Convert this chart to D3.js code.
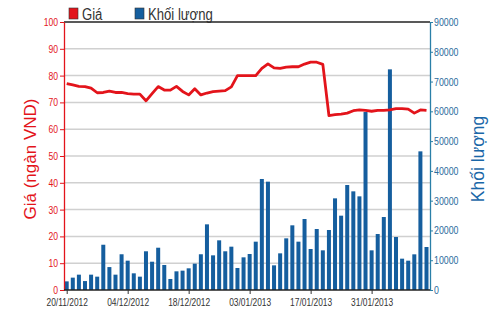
<!DOCTYPE html>
<html>
<head>
<meta charset="utf-8">
<script src="https://cdn.jsdelivr.net/npm/d3@7"></script>
<style>
  body { margin: 0; background: #fff; }
  text { font-family: "Liberation Sans", Arial, sans-serif; }
</style>
</head>
<body>
<div id="chart"></div>
<script>
// Data: trading days, price (ngàn VND) and volume
const dates = [
  "20/11/2012", "21/11/2012", "22/11/2012", "23/11/2012", "26/11/2012", "27/11/2012", "28/11/2012", "29/11/2012", "30/11/2012", "03/12/2012",
  "04/12/2012", "05/12/2012", "06/12/2012", "07/12/2012", "10/12/2012", "11/12/2012", "12/12/2012", "13/12/2012", "14/12/2012", "17/12/2012",
  "18/12/2012", "19/12/2012", "20/12/2012", "21/12/2012", "24/12/2012", "25/12/2012", "26/12/2012", "27/12/2012", "28/12/2012", "02/01/2013",
  "03/01/2013", "04/01/2013", "07/01/2013", "08/01/2013", "09/01/2013", "10/01/2013", "11/01/2013", "14/01/2013", "15/01/2013", "16/01/2013",
  "17/01/2013", "18/01/2013", "21/01/2013", "22/01/2013", "23/01/2013", "24/01/2013", "25/01/2013", "28/01/2013", "29/01/2013", "30/01/2013",
  "31/01/2013", "01/02/2013", "04/02/2013", "05/02/2013", "06/02/2013", "07/02/2013", "18/02/2013", "19/02/2013", "20/02/2013", "21/02/2013"
];

const price = [
  77.0, 76.5, 76.0, 75.9, 75.3, 73.6, 73.7, 74.2, 73.7, 73.7,
  73.3, 73.1, 73.1, 70.6, 73.3, 75.9, 74.6, 74.6, 76.0, 74.1,
  72.8, 75.1, 72.8, 73.5, 74.0, 74.2, 74.4, 75.8, 80.0, 80.0,
  80.0, 80.0, 82.7, 84.4, 82.9, 82.7, 83.2, 83.3, 83.3, 84.3,
  85.0, 85.0, 84.2, 65.1, 65.4, 65.6, 66.0, 66.9, 67.2, 67.0,
  66.7, 67.0, 67.0, 67.2, 67.7, 67.7, 67.5, 66.0, 67.2, 67.0
];

const volume = [
  2900, 4150, 5150, 3000, 5150, 4480, 15200, 7700, 5150, 12000,
  9850, 5600, 4480, 13000, 9500, 14200, 8400, 3700, 6270, 6500,
  7280, 8840, 12000, 22050, 11640, 16680, 13000, 14550, 7390, 10970,
  12090, 16230, 37280, 36380, 8280, 12310, 17350, 21720, 16230, 23840,
  13770, 20480, 13320, 20150, 30780, 24960, 35260, 33130, 31450, 59770,
  13320, 18800, 24510, 74100, 17800, 10520, 9850, 11980, 46560, 14440
];

const priceTicks = [0, 10, 20, 30, 40, 50, 60, 70, 80, 90, 100];
const volumeTicks = [0, 10000, 20000, 30000, 40000, 50000, 60000, 70000, 80000, 90000];
const dateTicks = ["20/11/2012", "04/12/2012", "18/12/2012", "03/01/2013", "17/01/2013", "31/01/2013"];

const width = 500;
const height = 312;
const margin = { top: 22, right: 70, bottom: 22, left: 64 };
const plotRight = width - margin.right;
const plotBottom = height - margin.bottom;

const red = "#e3141b";
const blue = "#155e9e";

const svg = d3.select("#chart")
  .append("svg")
  .attr("width", width)
  .attr("height", height);

// squeeze text horizontally (reference uses a narrow font)
function narrow(sel, k) {
  sel.each(function () {
    const len = this.getComputedTextLength();
    d3.select(this)
      .attr("textLength", len * k)
      .attr("lengthAdjust", "spacingAndGlyphs");
  });
}

// Scales
const x = d3.scalePoint()
  .domain(dates)
  .range([margin.left + 2.7, plotRight - 3.5]);

const yPrice = d3.scaleLinear().domain([0, 100]).range([plotBottom, margin.top]);
const yVol = d3.scaleLinear().domain([0, 90000]).range([plotBottom, margin.top]);

// Gridlines
svg.append("g")
  .selectAll("line")
  .data(priceTicks.slice(1, -1))
  .join("line")
  .attr("x1", margin.left)
  .attr("x2", plotRight)
  .attr("y1", d => yPrice(d))
  .attr("y2", d => yPrice(d))
  .attr("stroke", "#d0d0d0")
  .attr("stroke-width", 1.5);

// top border
svg.append("line")
  .attr("x1", margin.left).attr("x2", plotRight)
  .attr("y1", margin.top).attr("y2", margin.top)
  .attr("stroke", "#222").attr("stroke-width", 1.3);

// Volume bars
const barW = 4;
svg.append("g")
  .selectAll("rect")
  .data(volume)
  .join("rect")
  .attr("x", (d, i) => x(dates[i]) - barW / 2)
  .attr("y", d => yVol(d))
  .attr("width", barW)
  .attr("height", d => plotBottom - yVol(d))
  .attr("fill", blue);

// Price line
const line = d3.line()
  .x((d, i) => x(dates[i]))
  .y(d => yPrice(d));

svg.append("path")
  .datum(price)
  .attr("fill", "none")
  .attr("stroke", red)
  .attr("stroke-width", 2.8)
  .attr("stroke-linejoin", "round")
  .attr("d", line);

// Left axis
const leftAxis = svg.append("g")
  .attr("transform", `translate(${margin.left},0)`)
  .call(d3.axisLeft(yPrice).tickValues(priceTicks).tickSize(4).tickSizeOuter(0).tickPadding(2));
leftAxis.select(".domain").attr("stroke", red).attr("stroke-width", 1.3);
leftAxis.selectAll(".tick line").attr("stroke", red);
leftAxis.selectAll("text").attr("fill", red).style("font-size", "11px").call(narrow, 0.78);

// Right axis
const rightAxis = svg.append("g")
  .attr("transform", `translate(${plotRight},0)`)
  .call(d3.axisRight(yVol).tickValues(volumeTicks).tickFormat(d3.format("d")).tickSize(3).tickSizeOuter(0).tickPadding(1));
rightAxis.select(".domain").attr("stroke", "#2a7fa8").attr("stroke-width", 1.3);
rightAxis.selectAll(".tick line").attr("stroke", "#2a7fa8");
rightAxis.selectAll("text").attr("fill", "#2b6b9c").style("font-size", "11px").call(narrow, 0.8);

// Bottom axis
const bottomAxis = svg.append("g")
  .attr("transform", `translate(0,${plotBottom})`)
  .call(d3.axisBottom(x).tickValues(dateTicks).tickSize(4).tickSizeOuter(0).tickPadding(5));
bottomAxis.select(".domain").attr("d", `M${margin.left},0H${plotRight}`).attr("stroke", "#222").attr("stroke-width", 1.3);
bottomAxis.selectAll(".tick line").attr("stroke", "#333");
bottomAxis.selectAll("text").attr("fill", "#333").style("font-size", "10.5px").call(narrow, 0.8);

// Axis titles
svg.append("text")
  .attr("transform", "translate(36,159) rotate(-90)")
  .attr("text-anchor", "middle")
  .attr("fill", red)
  .style("font-size", "17px")
  .text("Giá (ngàn VND)");

svg.append("text")
  .attr("transform", "translate(484,159) rotate(-90)")
  .attr("text-anchor", "middle")
  .attr("fill", "#1a67a8")
  .style("font-size", "17.5px")
  .text("Khối lượng");

// Legend
const legend = [
  { label: "Giá", color: red, x: 69 },
  { label: "Khối lượng", color: blue, x: 135 }
];
const lg = svg.append("g")
  .selectAll("g")
  .data(legend)
  .join("g")
  .attr("transform", d => `translate(${d.x},8)`);
lg.append("rect")
  .attr("width", 9).attr("height", 11)
  .attr("fill", d => d.color)
  .attr("stroke", "#333").attr("stroke-width", 0.6);
lg.append("text")
  .attr("x", 13).attr("y", 11.5)
  .attr("fill", "#333")
  .style("font-size", "16px")
  .text(d => d.label)
  .call(narrow, 0.82);
</script>
</body>
</html>
